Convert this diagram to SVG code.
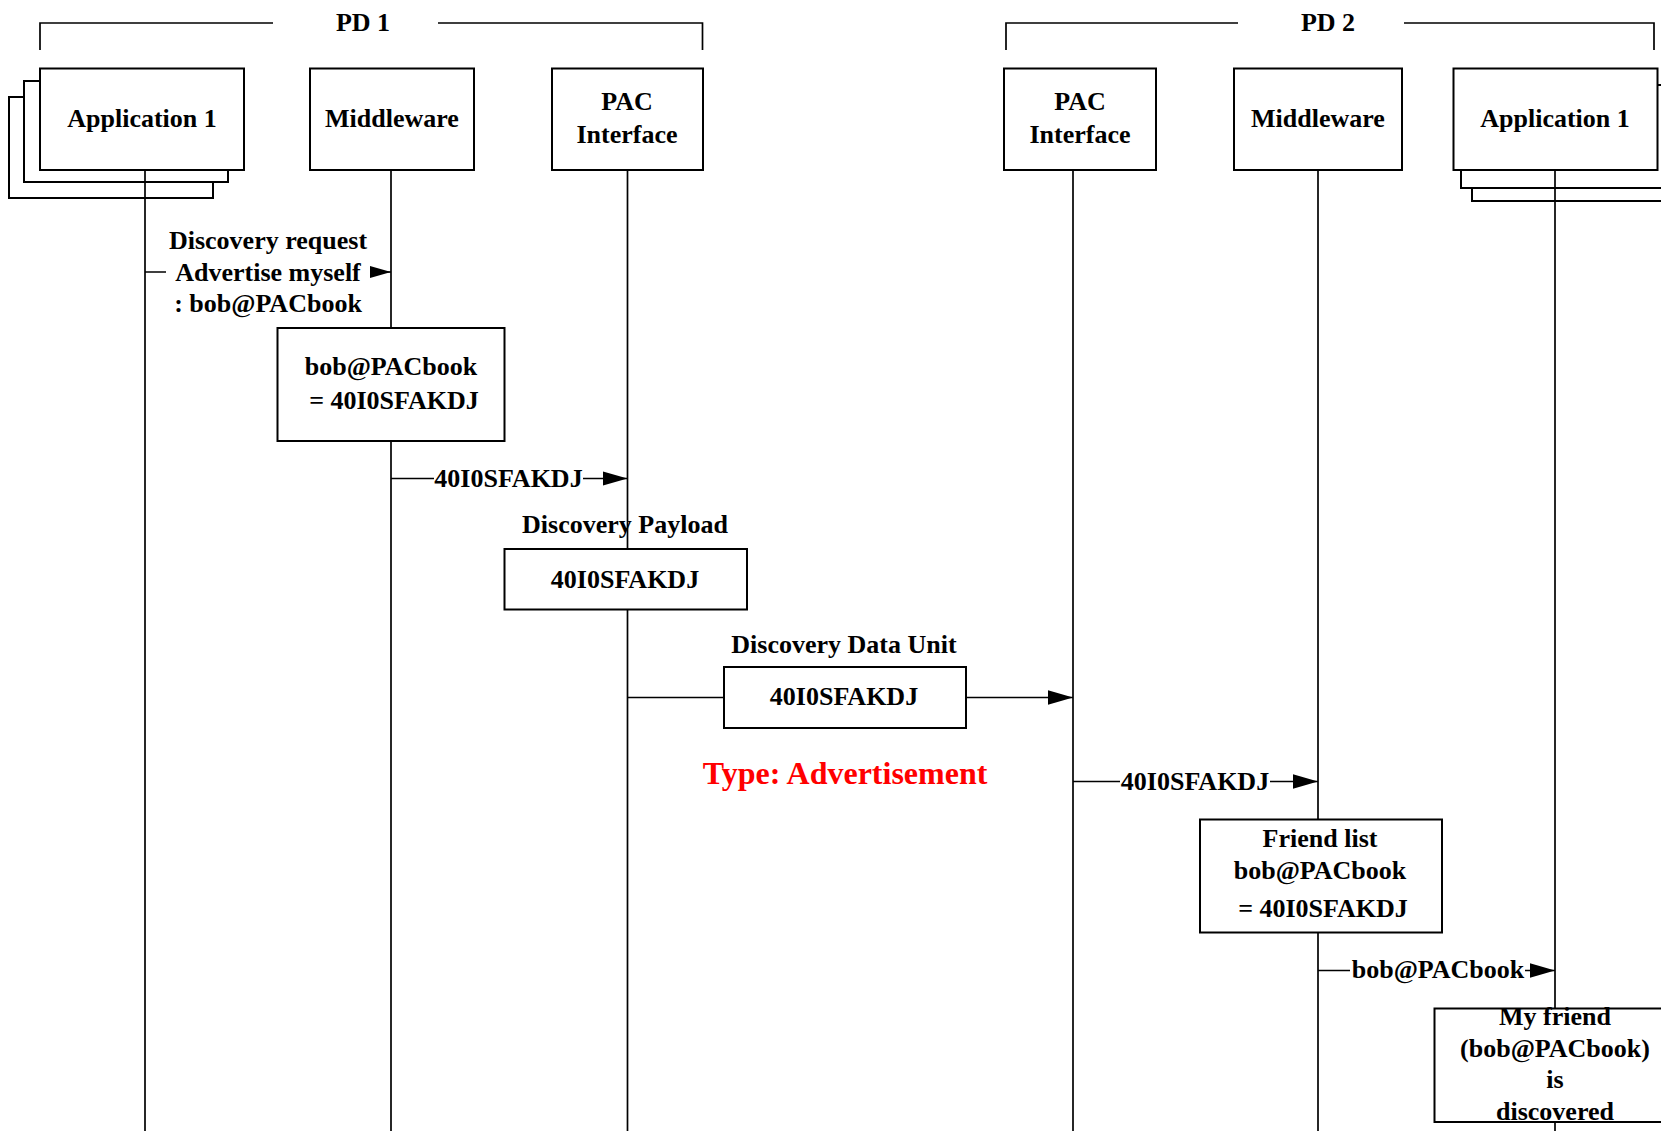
<svg xmlns="http://www.w3.org/2000/svg" width="1661" height="1131" viewBox="0 0 1661 1131">
  <style>
    .box { fill: #fff; stroke: #000; stroke-width: 2; }
    .life { stroke: #000; stroke-width: 1.7; fill: none; }
    .brk { stroke: #000; stroke-width: 1.7; fill: none; }
    .conn { stroke: #000; stroke-width: 1.7; fill: none; }
    .t { font-family: "Liberation Serif", "Times New Roman", serif; font-weight: bold; font-size: 26px; fill: #000; text-anchor: middle; }
    .red { font-size: 32px; fill: #ff0000; }
  </style>
  <defs>
    <marker id="ah" markerWidth="25" markerHeight="15" refX="25" refY="7.25" orient="auto" markerUnits="userSpaceOnUse">
      <path d="M0,0 L25,7.25 L0,14.5 z" fill="#000"/>
    </marker>
    <marker id="ah-small" markerWidth="21" markerHeight="12" refX="21" refY="6" orient="auto" markerUnits="userSpaceOnUse">
      <path d="M0,0 L21,6 L0,12 z" fill="#000"/>
    </marker>
  </defs>

  <!-- device brackets -->
  <g id="pd1">
    <path class="brk" d="M40,50 V23 H273 M438,23 H702.5 V50"/>
    <text class="t" x="363" y="31">PD 1</text>
  </g>
  <g id="pd2">
    <path class="brk" d="M1006,50 V23 H1238 M1404,23 H1654 V50"/>
    <text class="t" x="1328" y="31">PD 2</text>
  </g>

  <!-- message label drawn beneath the lifeline -->
  <text class="t" x="625" y="533">Discovery Payload</text>

  <!-- participants of PD 1 -->
  <g id="pd1-app">
    <rect class="box" x="9" y="97" width="204" height="101"/>
    <rect class="box" x="24" y="81" width="204" height="101"/>
    <rect class="box" x="40" y="68.5" width="204" height="101.5"/>
    <text class="t" x="142" y="127">Application 1</text>
    <line class="life" x1="145" y1="170" x2="145" y2="1131"/>
  </g>
  <g id="pd1-mw">
    <rect class="box" x="310" y="68.5" width="164" height="101.5"/>
    <text class="t" x="392" y="127">Middleware</text>
    <line class="life" x1="391" y1="170" x2="391" y2="1131"/>
  </g>
  <g id="pd1-pac">
    <rect class="box" x="552" y="68.5" width="151" height="101.5"/>
    <text class="t" x="627" y="110">PAC</text>
    <text class="t" x="627" y="143">Interface</text>
    <line class="life" x1="627.5" y1="170" x2="627.5" y2="1131"/>
  </g>

  <!-- participants of PD 2 -->
  <g id="pd2-pac">
    <rect class="box" x="1004" y="68.5" width="152" height="101.5"/>
    <text class="t" x="1080" y="110">PAC</text>
    <text class="t" x="1080" y="143">Interface</text>
    <line class="life" x1="1073" y1="170" x2="1073" y2="1131"/>
  </g>
  <g id="pd2-mw">
    <rect class="box" x="1234" y="68.5" width="168" height="101.5"/>
    <text class="t" x="1318" y="127">Middleware</text>
    <line class="life" x1="1318" y1="170" x2="1318" y2="1131"/>
  </g>
  <g id="pd2-app">
    <rect class="box" x="1472" y="101" width="220" height="100"/>
    <rect class="box" x="1461" y="85" width="220" height="103"/>
    <rect class="box" x="1453.5" y="68.5" width="204" height="101.5"/>
    <text class="t" x="1555" y="127">Application 1</text>
    <line class="life" x1="1555" y1="170" x2="1555" y2="1131"/>
  </g>

  <!-- messages -->
  <g id="connectors">
    <path class="conn" d="M145,272 H166 M370,272 H391" marker-end="url(#ah-small)"/>
    <path class="conn" d="M391,478.5 H434 M583,478.5 H627.5" marker-end="url(#ah)"/>
    <path class="conn" d="M627.5,697.5 H724 M966,697.5 H1073" marker-end="url(#ah)"/>
    <path class="conn" d="M1073,781.5 H1120 M1270,781.5 H1318" marker-end="url(#ah)"/>
    <path class="conn" d="M1318,970.5 H1350 M1525,970.5 H1555" marker-end="url(#ah)"/>
  </g>

  <g id="label-advertise">
    <text class="t" x="268" y="249">Discovery request</text>
    <text class="t" x="268" y="281">Advertise myself</text>
    <text class="t" x="268" y="312">: bob@PACbook</text>
  </g>

  <g id="mapping">
    <rect class="box" x="277.5" y="328" width="227" height="113"/>
    <text class="t" x="391" y="375">bob@PACbook</text>
    <text class="t" x="394" y="409">= 40I0SFAKDJ</text>
  </g>

  <text class="t" x="508.5" y="486.5">40I0SFAKDJ</text>

  <g id="payload">
    <rect class="box" x="504.5" y="549" width="242.5" height="60.5"/>
    <text class="t" x="625" y="588">40I0SFAKDJ</text>
  </g>

  <g id="data-unit">
    <text class="t" x="844" y="653">Discovery Data Unit</text>
    <rect class="box" x="724" y="667" width="242" height="61"/>
    <text class="t" x="844" y="705">40I0SFAKDJ</text>
  </g>

  <text class="t red" x="845" y="784">Type: Advertisement</text>

  <text class="t" x="1195" y="789.5">40I0SFAKDJ</text>

  <g id="friend-list">
    <rect class="box" x="1200" y="819.5" width="242" height="113"/>
    <text class="t" x="1320" y="847">Friend list</text>
    <text class="t" x="1320" y="879">bob@PACbook</text>
    <text class="t" x="1323" y="917">= 40I0SFAKDJ</text>
  </g>

  <text class="t" x="1438" y="977.5">bob@PACbook</text>

  <g id="friend-found">
    <rect class="box" x="1434.5" y="1008.5" width="245" height="113.5"/>
    <text class="t" x="1555" y="1025">My friend</text>
    <text class="t" x="1555" y="1056.5">(bob@PACbook)</text>
    <text class="t" x="1555" y="1088">is</text>
    <text class="t" x="1555" y="1119.5">discovered</text>
  </g>
</svg>
